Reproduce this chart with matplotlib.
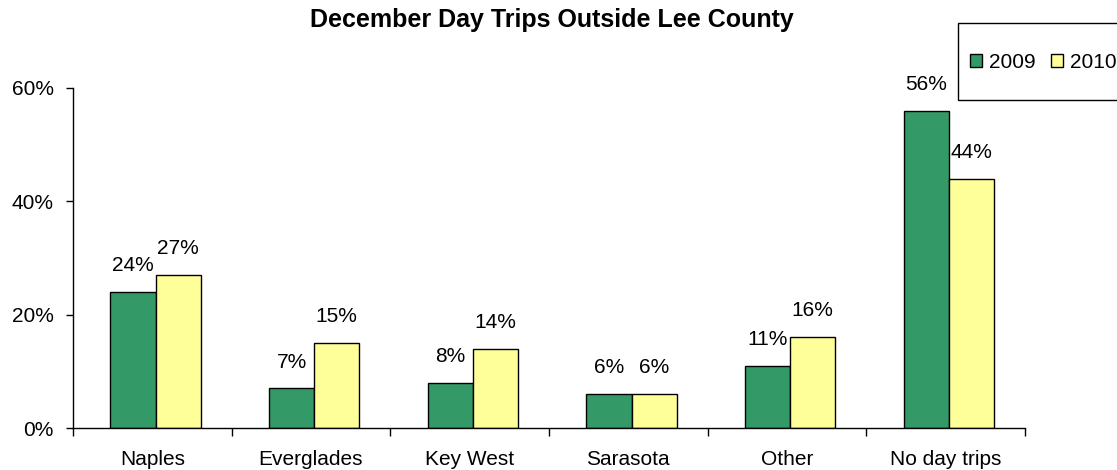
import matplotlib.pyplot as plt
import numpy as np
from matplotlib.patches import Rectangle, Patch
from matplotlib.ticker import PercentFormatter, FixedLocator, NullFormatter

plt.rcParams['font.family'] = ['Liberation Sans', 'DejaVu Sans']

# ----------------------------------------------------
# Data
# ----------------------------------------------------
categories = ["Naples", "Everglades", "Key West", "Sarasota", "Other", "No day trips"]
series_names = ["2009", "2010"]
values_2009 = [24, 7, 8, 6, 11, 56]
values_2010 = [27, 15, 14, 6, 16, 44]
y_ticks = [0, 20, 40, 60]

GREEN = "#339966"
YELLOW = "#FFFF99"
FS = 15

# ----------------------------------------------------
# Figure
# ----------------------------------------------------
fig = plt.figure(figsize=(11.17, 4.70), dpi=100)
ax = fig.add_axes([73 / 1117, 1 - 428 / 470, (1025 - 73) / 1117, (428 - 88) / 470])

x = np.arange(len(categories))
width = 0.285

bars1 = ax.bar(x - width / 2 + 0.02, values_2009, width, color=GREEN,
               edgecolor="black", linewidth=1)
bars2 = ax.bar(x + width / 2 + 0.02, values_2010, width, color=YELLOW,
               edgecolor="black", linewidth=1)

for bars, vals in [(bars1, values_2009), (bars2, values_2010)]:
    for b, v in zip(bars, vals):
        ax.annotate(f"{v}%", (b.get_x() + b.get_width() / 2, v),
                    xytext=(0, 15), textcoords="offset points",
                    ha="center", va="baseline", fontsize=FS)

ax.set_xlim(-0.5, len(categories) - 0.5)
ax.set_ylim(0, 60)
ax.set_yticks(y_ticks)
ax.yaxis.set_major_formatter(PercentFormatter(decimals=0))

# category labels in the middle, tick marks on the boundaries
ax.xaxis.set_major_locator(FixedLocator(np.arange(len(categories) + 1) - 0.5))
ax.xaxis.set_major_formatter(NullFormatter())
ax.xaxis.set_minor_locator(FixedLocator(x))
ax.set_xticklabels(categories, minor=True)
ax.tick_params(axis="x", which="minor", length=0, pad=16, labelsize=FS)
ax.tick_params(axis="x", which="major", length=6, width=1, direction="out")
ax.tick_params(axis="y", length=5, width=1, direction="out", labelsize=FS, pad=9)

for s in ["top", "right"]:
    ax.spines[s].set_visible(False)
ax.spines["left"].set_linewidth(1)
ax.spines["bottom"].set_linewidth(1)

fig.text(552 / 1117, 1 - 20 / 470, "December Day Trips Outside Lee County",
         ha="center", va="center", fontsize=18, fontweight="bold")

# ----------------------------------------------------
# Legend (box runs off the right edge)
# ----------------------------------------------------
fig.patches.append(Rectangle((958 / 1117, 1 - 100 / 470), 200 / 1117, 77 / 470,
                             transform=fig.transFigure, facecolor="white",
                             edgecolor="black", linewidth=1))
handles = [Patch(facecolor=GREEN, edgecolor="black"),
           Patch(facecolor=YELLOW, edgecolor="black")]
fig.legend(handles, series_names, loc="center left",
           bbox_to_anchor=(955 / 1117, 1 - 62 / 470), ncol=2, frameon=False,
           fontsize=FS, handlelength=0.6, handleheight=0.6,
           handletextpad=0.35, columnspacing=0.7, borderpad=0.2)

plt.savefig("out.png", dpi=100)
plt.close()
